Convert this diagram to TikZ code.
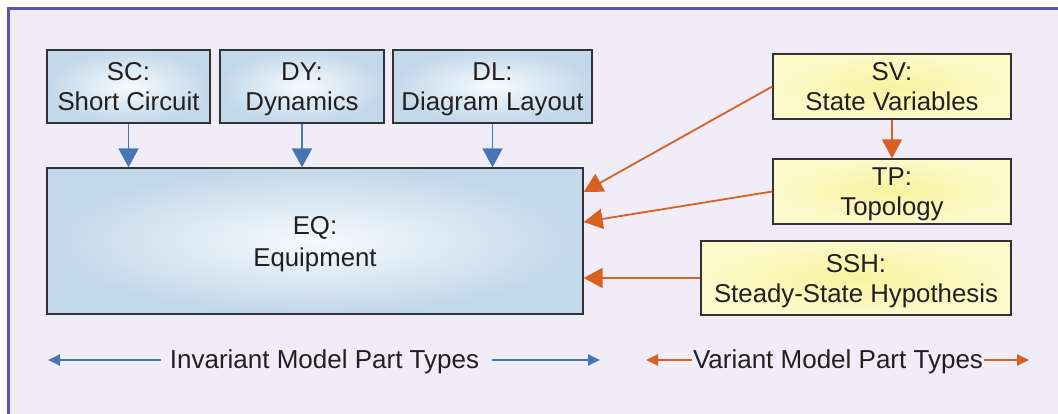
\documentclass[tikz,border=0pt]{standalone}
\usepackage{fontspec}
\setmainfont{Liberation Sans}
\usetikzlibrary{arrows.meta,calc}

\definecolor{panelbg}{HTML}{F0EDF8}
\definecolor{panelrule}{HTML}{5B54B8}
\definecolor{invedge}{HTML}{C3D8EA}
\definecolor{invcore}{HTML}{F6FAFD}
\definecolor{varedge}{HTML}{FCFACB}
\definecolor{varcore}{HTML}{F8F39F}
\definecolor{invblue}{HTML}{4677B5}
\definecolor{varorange}{HTML}{D9601F}
\definecolor{boxline}{HTML}{333333}
\definecolor{txt}{HTML}{231F20}

\tikzset{
  partbox/.style={draw=boxline, line width=1.3pt, align=center, inner sep=0pt,
    text depth=0pt, text=txt, font=\fontsize{25.8}{30}\selectfont},
  invbox/.style={partbox, inner color=invcore, outer color=invedge},
  varbox/.style={partbox, inner color=varcore, outer color=varedge},
  invarrow/.style={draw=invblue, line width=1.8pt,
    -{Triangle[length=19pt,width=20pt]}, fill=invblue},
  vararrow/.style={draw=varorange, line width=1.8pt,
    -{Triangle[length=19pt,width=20pt]}, fill=varorange},
  legendtext/.style={text=txt, inner sep=0pt, anchor=base,
    font=\fontsize{26}{30}\selectfont},
  invlegend/.style={draw=invblue, line width=1.8pt, -{Triangle[length=12pt,width=11pt]}},
  varlegend/.style={draw=varorange, line width=1.8pt, -{Triangle[length=12pt,width=11pt]}}
}

\begin{document}
\begin{tikzpicture}[x=1pt, y=-1pt]
  \useasboundingbox (0,0) rectangle (1058,414);
  \fill[white] (0,0) rectangle (1058,414);
  % panel background with its ruled top and left edges
  \fill[panelbg] (8.5,8.5) rectangle (1070,430);
  \draw[panelrule, line width=3pt] (8.5,430) -- (8.5,8.5) -- (1070,8.5);

  % invariant model parts
  \node[invbox, minimum width=163, minimum height=73] (sc) at (128.5,86.5) {SC:\\Short Circuit};
  \node[invbox, minimum width=164, minimum height=73] (dy) at (302,86.5) {DY:\\Dynamics};
  \node[invbox, minimum width=199, minimum height=73] (dl) at (492.5,86.5) {DL:\\Diagram Layout};
  \node[invbox, minimum width=536, minimum height=146,
        font=\fontsize{25.8}{32}\selectfont] (eq) at (315,241) {EQ:\\Equipment};

  % variant model parts
  \node[varbox, minimum width=238, minimum height=65] (sv) at (892,86.5) {SV:\\State Variables};
  \node[varbox, minimum width=238, minimum height=65] (tp) at (892,191.5) {TP:\\Topology};
  \node[varbox, minimum width=310, minimum height=74] (ssh) at (856,278) {SSH:\\Steady-State Hypothesis};

  % dependencies of the invariant parts on EQ
  \draw[invarrow] (sc.south) -- (sc.south |- eq.north);
  \draw[invarrow] (dy.south) -- (dy.south |- eq.north);
  \draw[invarrow] (dl.south) -- (dl.south |- eq.north);

  % dependencies of the variant parts
  \draw[vararrow] (sv.south) -- (tp.north);
  \draw[vararrow] (sv.west) -- ($(eq.east)+(0,-49)$);
  \draw[vararrow] (tp.west) -- ($(eq.east)+(0,-19)$);
  \draw[vararrow] (ssh.west) -- (ssh.west -| eq.east);

  % legend: labels sit on a baseline, their arrows run at mid x-height
  \node[legendtext] (inv) at (324.5,368) {Invariant Model Part Types};
  \coordinate (invL) at (48,360);
  \coordinate (invR) at (600,360);
  \draw[invlegend] ([xshift=-9pt]inv.west |- invL) -- (invL);
  \draw[invlegend] ([xshift=13pt]inv.east |- invR) -- (invR);

  \node[legendtext] (var) at (838,368) {Variant Model Part Types};
  \coordinate (varL) at (646,360);
  \coordinate (varR) at (1029,360);
  \draw[varlegend] ([xshift=-1pt]var.west |- varL) -- (varL);
  \draw[varlegend] ([xshift=1pt]var.east |- varR) -- (varR);
\end{tikzpicture}
\end{document}
